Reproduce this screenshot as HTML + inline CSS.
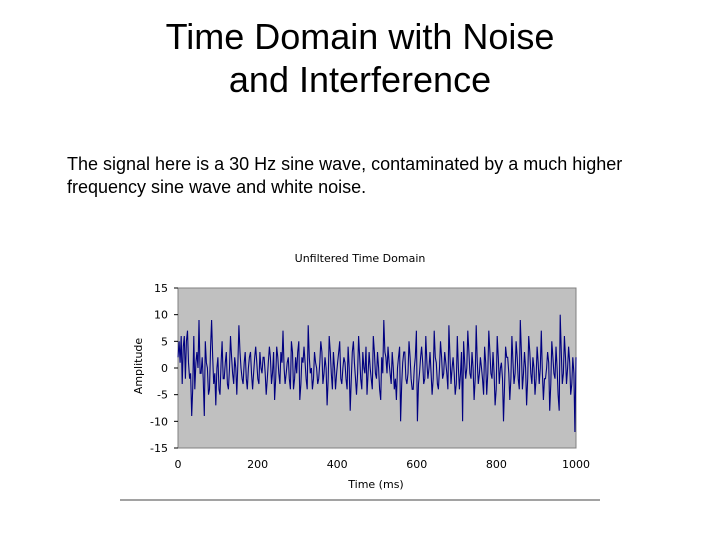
<!DOCTYPE html>
<html><head><meta charset="utf-8"><style>
body{margin:0;width:720px;height:540px;background:#fff;font-family:"Liberation Sans",sans-serif;position:relative;overflow:hidden}
.t{position:absolute;left:0;width:720px;text-align:center;font-size:36px;line-height:43px;top:15px;color:#000}
.p{position:absolute;left:67px;top:153px;font-size:18px;line-height:23px;color:#000}
</style></head><body>
<div class="t">Time Domain with Noise<br>and Interference</div>
<div class="p">The signal here is a 30 Hz sine wave, contaminated by a much higher<br>frequency sine wave and white noise.</div>
<svg id="c" width="720" height="540" style="position:absolute;left:0;top:0"></svg>
<script>
const xTicks=[0,200,400,600,800,1000];
const yTicks=[15,10,5,0,-5,-10,-15];
const amps=[2,5,1,6,-3,4,6,-2,5,7,1,-2,-1,-9,-4,6,-4,1,3,0,9,-1,-1,2,-2,-9,5,1,0,-5,-4,4,9,2,-3,-1,-7,0,2,-4,
-5,1,5,-2,-2,1,3,-3,-4,0,6,2,-1,-3,2,0,-5,1,8,3,0,-2,-3,1,3,-2,-4,0,2,3,-1,-4,-1,2,4,1,-2,-3,3,0,
-1,2,2,-1,-5,-2,1,4,2,-3,-1,3,-6,-2,4,2,-1,-3,3,1,7,0,-3,-1,1,2,-2,-4,5,3,-4,-2,2,-1,3,5,-6,-3,2,1,
4,1,-2,-4,8,2,-1,0,-4,-2,3,1,0,-3,-2,1,5,3,-3,-1,2,0,-7,-2,6,3,-1,-4,3,0,-4,-1,1,3,5,-2,-3,0,2,1,
-2,-4,4,0,-8,-2,3,5,1,-2,-5,-1,6,2,-2,-4,3,0,-1,4,-5,-1,3,0,-2,-4,6,3,-1,-2,3,0,-4,-6,2,-1,9,3,
2,-1,4,1,-1,-3,3,0,-4,-2,-6,0,2,4,-10,-3,1,3,3,-2,-3,-1,5,2,-2,-4,-4,0,2,7,-10,-3,-1,2,4,1,-3,-2,
6,1,-2,0,3,-1,-5,-2,7,2,1,-3,-4,0,5,2,-2,-1,3,1,-1,-4,8,2,-3,0,2,-1,-5,-3,6,0,-4,-1,3,-10,5,1,
-2,0,7,3,-1,-2,3,0,-6,-2,8,1,-3,-1,2,0,-2,-5,4,1,-5,-1,7,3,-1,-2,3,-1,-7,-4,6,2,-3,0,1,-2,-10,-3,
4,2,2,-1,-6,-2,6,1,-3,-1,5,2,-2,-4,9,3,-4,-1,3,0,-7,-2,6,3,-1,-3,2,0,-5,-2,4,1,-3,0,7,-1,-6,-2,
-2,0,3,1,-8,-3,5,2,-1,-2,4,0,-5,-8,10,3,-3,-1,6,2,-3,0,4,1,-5,-3,2,-1,-12,2];
const svg=document.getElementById('c');const NS='http://www.w3.org/2000/svg';
const L=178,R=576,T=288,B=448;
const xs=v=>L+(v-0)/1000*(R-L);
const ys=v=>T+(15-v)/30*(B-T);
function mk(tag,at,name){const e=document.createElementNS(NS,tag);for(const k in at)e.setAttribute(k,at[k]);


svg.appendChild(e);return e;}
mk('text',{x:360,y:262,'text-anchor':'middle','font-size':11,'font-family':'DejaVu Sans,sans-serif',fill:'#000'},'chart-title').textContent='Unfiltered Time Domain';
mk('rect',{x:L,y:T,width:R-L,height:B-T,fill:'#c0c0c0',stroke:'#808080','stroke-width':1},'plot-area');
yTicks.forEach(v=>{mk('line',{x1:L-4,x2:L,y1:ys(v),y2:ys(v),stroke:'#000'},'y-tick');
const t=mk('text',{x:L-10,y:ys(v)+4,'text-anchor':'end','font-size':11,'font-family':'DejaVu Sans,sans-serif'},'y-tick-label');t.textContent=v;});
xTicks.forEach(v=>{const t=mk('text',{x:xs(v),y:B+20,'text-anchor':'middle','font-size':11,'font-family':'DejaVu Sans,sans-serif'},'x-tick-label');t.textContent=v;});
mk('text',{x:376,y:488,'text-anchor':'middle','font-size':11,'font-family':'DejaVu Sans,sans-serif'},'x-axis-title').textContent='Time (ms)';
mk('text',{x:142,y:366,'text-anchor':'middle','font-size':11,'font-family':'DejaVu Sans,sans-serif',transform:'rotate(-90 142 366)'},'y-axis-title').textContent='Amplitude';
const step=1000/(amps.length-1);
const pts=amps.map((a,i)=>xs(i*step).toFixed(1)+','+ys(a).toFixed(1)).join(' ');
mk('polyline',{points:pts,fill:'none',stroke:'#000080','stroke-width':1.1},'signal-line');
mk('line',{x1:120,x2:600,y1:500,y2:500,stroke:'#444'},'bottom-rule');
</script>
</body></html>
